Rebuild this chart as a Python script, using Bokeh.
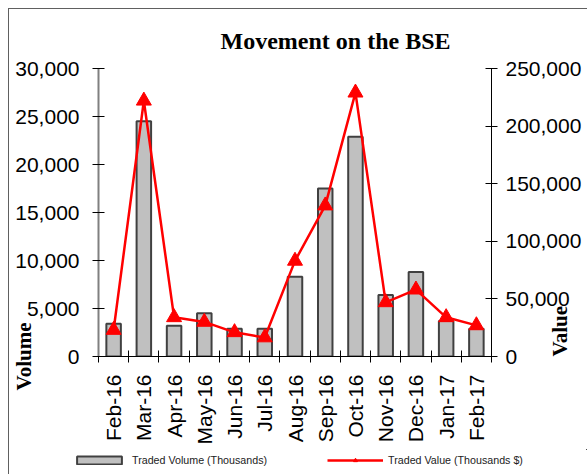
import math
from bokeh.plotting import figure
from bokeh.layouts import column
from bokeh.models import (Range1d, LinearAxis, FixedTicker, NumeralTickFormatter,
                          Legend, LegendItem, ColumnDataSource)
from bokeh.embed import file_html
from bokeh.resources import INLINE

months = ["Feb-16", "Mar-16", "Apr-16", "May-16", "Jun-16", "Jul-16", "Aug-16",
          "Sep-16", "Oct-16", "Nov-16", "Dec-16", "Jan-17", "Feb-17"]
volume = [3400, 24500, 3200, 4500, 2900, 2900, 8300, 17500, 22900, 6400, 8800, 3700, 2900]
value = [23000, 222000, 34000, 30000, 21000, 16500, 83000, 131000, 229000, 47000, 58000, 34000, 27000]
volume_ticks = [0, 5000, 10000, 15000, 20000, 25000, 30000]
value_ticks = [0, 50000, 100000, 150000, 200000, 250000]

idx = list(range(len(months)))
src = ColumnDataSource(dict(x=idx, month=months, volume=volume, value=value))

FONT = "Liberation Sans"
SERIF = "Liberation Serif"
BAR_FILL, BAR_LINE, RED = "#c0c0c0", "#404040", "#ff0000"

p = figure(width=578, height=440, output_backend="svg", toolbar_location=None,
           x_range=Range1d(-0.5, len(months) - 0.5), y_range=Range1d(0, 30000),
           min_border_left=87, min_border_right=95, min_border_top=59, min_border_bottom=93)
p.frame_align = False
p.extra_y_ranges = {"value": Range1d(0, 250000)}
p.xgrid.visible = False
p.ygrid.visible = False
p.outline_line_color = None
p.background_fill_color = "white"
p.border_fill_color = "white"

p.title.text = "Movement on the BSE"
p.title.text_font = SERIF
p.title.text_font_style = "bold"
p.title.text_font_size = "24px"
p.title.text_color = "black"
p.title.align = "left"
p.title.offset = 122
p.title.standoff = 30

bars = p.vbar(x="x", top="volume", width=0.48, source=src, fill_color=BAR_FILL,
              line_color=BAR_LINE, line_width=2)
p.line(x="x", y="value", source=src, y_range_name="value", line_color=RED, line_width=2.5)
p.scatter(x="x", y="value", source=src, y_range_name="value", marker="triangle",
          size=15, fill_color=RED, line_color=RED)

# Left axis
ya = p.yaxis[0]
ya.ticker = FixedTicker(ticks=volume_ticks)
ya.formatter = NumeralTickFormatter(format="0,0")
ya.axis_line_color = "#808080"
ya.axis_line_width = 2
ya.major_tick_in = 6
ya.major_tick_out = 6
ya.major_tick_line_color = "black"
ya.minor_tick_line_color = None
ya.major_label_text_font = FONT
ya.major_label_text_font_size = "21px"
ya.major_label_text_color = "black"
ya.major_label_standoff = 13
ya.axis_label = "Volume"
ya.axis_label_text_font = SERIF
ya.axis_label_text_font_style = "bold"
ya.axis_label_text_font_size = "21px"
ya.axis_label_text_color = "black"
ya.axis_label_standoff = -24
ya.axis_label_align = "start"

# Right axis
ra = LinearAxis(y_range_name="value", ticker=FixedTicker(ticks=value_ticks),
                formatter=NumeralTickFormatter(format="0,0"))
ra.axis_line_color = "black"
ra.major_tick_in = 6
ra.major_tick_out = 6
ra.major_tick_line_color = "black"
ra.minor_tick_line_color = None
ra.major_label_text_font = FONT
ra.major_label_text_font_size = "21px"
ra.major_label_text_color = "black"
ra.major_label_standoff = 8
ra.axis_label = "Value"
ra.axis_label_text_font = SERIF
ra.axis_label_text_font_style = "bold"
ra.axis_label_text_font_size = "21px"
ra.axis_label_text_color = "black"
ra.axis_label_standoff = -24
ra.axis_label_align = "start"
ra.axis_label_orientation = math.pi / 2
ra.axis_label_text_align = "left"
p.add_layout(ra, "right")

# Bottom axis: labels at category centres, ticks at boundaries
xa = p.xaxis[0]
xa.ticker = FixedTicker(ticks=idx, minor_ticks=[i - 0.5 for i in range(len(months) + 1)])
xa.major_label_overrides = {i: m for i, m in zip(idx, months)}
xa.major_tick_line_color = None
xa.minor_tick_in = 6
xa.minor_tick_out = 6
xa.minor_tick_line_color = "black"
xa.axis_line_color = "black"
xa.major_label_orientation = math.pi / 2
xa.major_label_text_font = FONT
xa.major_label_text_font_size = "21px"
xa.major_label_text_color = "black"
xa.major_label_standoff = 12

# Legend strip underneath (its own glyphs sit outside its visible range)
lg = figure(width=578, height=25, output_backend="svg", toolbar_location=None,
            x_range=Range1d(-100, -99), y_range=Range1d(-100, -99), x_axis_location=None,
            y_axis_location=None, min_border=0)
lg.frame_align = False
lg.xgrid.visible = False
lg.ygrid.visible = False
lg.outline_line_color = None
lg.border_fill_color = "white"
lb = lg.vbar(x="x", top="volume", width=0.48, source=src, fill_color=BAR_FILL,
             line_color=BAR_LINE, line_width=2)
ll = lg.line(x="x", y="value", source=src, line_color=RED, line_width=2.5)
ls = lg.scatter(x="x", y="value", source=src, marker="triangle", size=15,
                fill_color=RED, line_color=RED)
legend = Legend(items=[LegendItem(label="Traded Volume (Thousands)", renderers=[lb]),
                       LegendItem(label="Traded Value (Thousands $)", renderers=[ll, ls])],
                orientation="horizontal", glyph_width=56, glyph_height=10, spacing=60,
                label_standoff=5, label_text_font=FONT, label_text_font_size="10.7px",
                label_text_color="#222222",
                border_line_color=None, background_fill_alpha=0, padding=0, margin=0,
                location=(62, 8))
lg.add_layout(legend, "center")

layout = column(p, lg, spacing=0)
layout.styles = {"margin-left": "8px", "margin-top": "8px",
                 "border-left": "1px solid #606060", "border-top": "1px solid #606060"}

open("out.html", "w").write(file_html(layout, INLINE))
